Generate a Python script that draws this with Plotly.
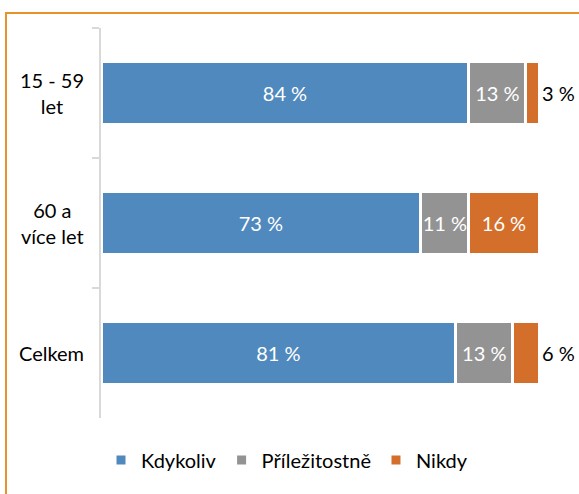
import plotly.graph_objects as go

categories = ["15 - 59<br>let", "60 a<br>více let", "Celkem"]
kdykoliv = [84, 73, 81]
prilezitostne = [13, 11, 13]
nikdy = [3, 16, 6]
series_names = ["Kdykoliv", "Příležitostně", "Nikdy"]
colors = ["#4F89BD", "#939393", "#D46F2B"]

FONT = "Lato"
fs = 20

fig = go.Figure()
for name, vals, col in zip(series_names, [kdykoliv, prilezitostne, nikdy], colors):
    if name == "Nikdy":
        pos = ["outside" if v < 10 else "inside" for v in vals]
    else:
        pos = "inside"
    fig.add_trace(go.Bar(
        y=categories, x=vals, name=name, orientation="h",
        marker=dict(color=col, line=dict(color="white", width=3)),
        text=[f"{v} %" for v in vals], textposition=pos, textangle=0,
        insidetextanchor="middle",
        insidetextfont=dict(color="white", size=fs, family=FONT),
        outsidetextfont=dict(color="black", size=fs, family=FONT),
        cliponaxis=False, width=0.49,
    ))

# category labels, centred multi-line, right edge near the axis
for cat in categories:
    fig.add_annotation(x=(86 - 101) / 438, xref="paper", y=cat, yref="y",
                       text=cat, showarrow=False, xanchor="right", align="center",
                       font=dict(size=fs, family=FONT, color="black"))

fig.update_layout(
    barmode="stack",
    width=579, height=494,
    margin=dict(l=101, r=40, t=28, b=76, autoexpand=False),
    paper_bgcolor="white", plot_bgcolor="white",
    font=dict(family=FONT, size=fs, color="black"),
    uniformtext=dict(minsize=fs, mode="show"),
    xaxis=dict(range=[0, 100], visible=False, fixedrange=True),
    yaxis=dict(autorange="reversed", showline=True, linecolor="#D9D9D9", linewidth=2,
               ticks="outside", tickson="boundaries", ticklen=7, tickcolor="#D9D9D9",
               tickwidth=2, showgrid=False, showticklabels=False, automargin=False),
    legend=dict(orientation="h", x=(287 - 101) / 438, xanchor="center", y=-0.108, yanchor="middle",
                font=dict(size=fs, family=FONT), traceorder="normal", itemwidth=30),
    shapes=[dict(type="rect", xref="paper", yref="paper",
                 x0=(6 - 101) / 438, x1=1.3, y0=-0.4, y1=(418 - 13) / 390,
                 line=dict(color="#E8922A", width=2), fillcolor="rgba(0,0,0,0)", layer="below")],
    showlegend=True,
)

fig.write_html("out.html", config={"displayModeBar": False},
               post_script="document.body.style.margin='0';")
